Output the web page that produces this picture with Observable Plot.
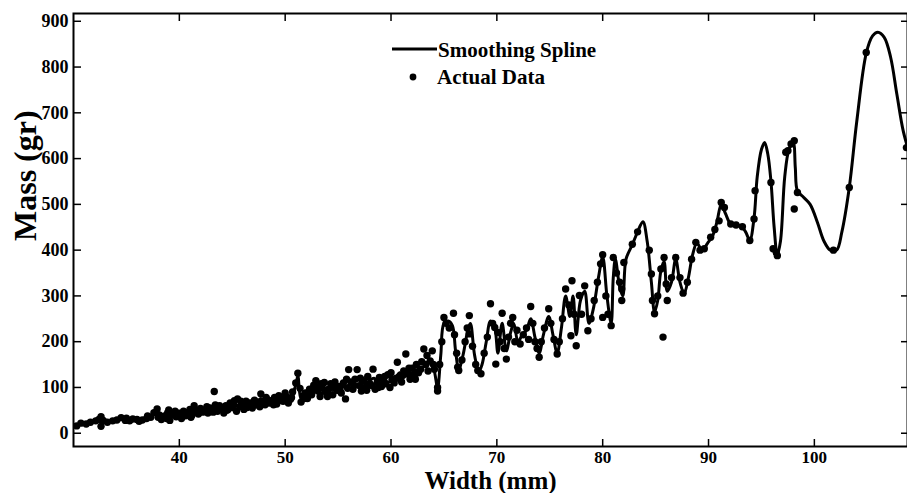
<!DOCTYPE html>
<html><head><meta charset="utf-8">
<script src="https://cdn.jsdelivr.net/npm/d3@7"></script>
<script src="https://cdn.jsdelivr.net/npm/@observablehq/plot@0.6"></script>
<style>body{margin:0;background:#fff}#chart svg{display:block}</style>
</head><body><div id="chart"></div>
<script>
const xTicks = [40, 50, 60, 70, 80, 90, 100];
const yTicks = [0, 100, 200, 300, 400, 500, 600, 700, 800, 900];
const legendLabels = ["Smoothing Spline", "Actual Data"];
const xTitle = "Width (mm)";
const yTitle = "Mass (gr)";

// Actual data: [width mm, mass gr]
const actualData = [
[30.3,16],[30.7,22],[31.2,20],[31.6,24],[32.1,27],[32.4,30],[32.6,36],[32.6,15],[32.8,28],[33.2,24],[33.7,27],[34.1,29],[34.5,34],[34.9,28],[35.0,33],[35.3,27],[35.6,31],[36.0,30],[36.2,26],[36.5,29],[36.9,32],[37.0,38],[37.3,35],[37.6,45],[37.9,53],[38.0,35],[38.1,40],[38.3,30],[38.6,38],[38.8,32],[38.9,45],[39.0,51],[39.1,28],[39.4,42],[39.6,48],[39.7,36],[40.0,44],[40.2,32],[40.3,40],[40.4,48],[40.6,38],[40.8,45],[41.0,52],[41.1,35],[41.2,40],[41.4,60],[41.6,48],[41.8,42],[41.9,50],[42.0,54],[42.2,46],[42.4,50],[42.6,58],[42.7,44],[42.9,55],[43.1,52],[43.2,46],[43.3,91],[43.4,62],[43.6,48],[43.8,60],[43.9,54],
[44.2,44],[44.4,60],[44.5,50],[44.6,52],[44.8,66],[45.0,56],[45.1,62],[45.2,71],[45.4,48],[45.5,75],[45.7,58],[45.8,70],[45.9,64],[46.1,52],[46.3,70],[46.4,56],[46.5,60],[46.7,66],[46.9,55],[47.0,64],[47.1,72],[47.3,62],[47.5,68],[47.6,58],[47.7,86],[47.9,70],[48.1,62],[48.2,78],[48.3,74],[48.5,66],[48.8,72],[48.9,62],[49.0,78],[49.2,64],[49.4,82],[49.5,72],[49.6,76],[49.8,70],[50.0,88],[50.1,80],[50.3,66],[50.5,74],[50.6,78],[50.7,90],[51.0,110],[51.2,131],[51.4,98],[51.5,68],[51.7,82],[51.8,76],[51.9,88],
[52.1,76],[52.2,88],[52.3,96],[52.5,84],[52.7,105],[52.8,96],[52.9,115],[53.1,92],[53.3,80],[53.4,108],[53.5,100],[53.7,111],[53.9,88],[54.0,80],[54.1,96],[54.3,108],[54.5,84],[54.6,100],[54.7,112],[54.9,94],[55.1,102],[55.2,92],[55.3,88],[55.5,110],[55.7,75],[55.8,118],[55.9,98],[56.0,139],[56.2,112],[56.4,96],[56.5,104],[56.6,118],[56.8,139],[57.0,104],[57.1,120],[57.2,92],[57.4,115],[57.6,100],[57.7,94],[57.8,124],[58.0,108],[58.2,104],[58.3,140],[58.5,96],[58.7,112],[58.8,100],[58.9,122],[59.1,102],[59.3,116],[59.4,124],[59.5,108],[59.7,128],[59.9,100],[60.0,132],[60.1,118],[60.3,110],[60.5,120],[60.6,155],[60.8,124],[61.0,112],[61.1,126],[61.2,136],[61.4,173],[61.6,130],[61.7,142],[61.8,118],[62.0,142],[62.2,126],[62.3,118],[62.4,150],[62.6,132],[62.8,140],[62.9,156],[63.1,184],[63.3,150],[63.4,170],[63.5,136],[63.7,158],[63.9,180],[64.0,150],[64.1,140],[64.4,100],[64.4,92],
[64.6,150],[64.8,200],[65.0,253],[65.2,240],[65.5,230],[65.9,262],[66.0,215],[66.2,175],[66.3,144],[66.4,137],[66.7,160],[67.0,200],[67.2,230],[67.4,257],[67.4,217],[67.7,190],[68.0,150],[68.2,137],[68.5,130],[68.8,175],[69.1,210],[69.4,283],[69.6,240],[69.8,231],[69.9,151],[70.1,220],[70.3,200],[70.5,262],[70.7,185],[70.9,162],[71.1,210],[71.3,240],[71.5,253],[71.7,200],[71.9,225],[72.2,195],[72.5,215],[72.8,230],[73.0,205],[73.2,277],[73.4,240],[73.6,200],[73.8,185],[74.0,166],[74.2,200],[74.5,230],[74.9,272],[75.1,240],[75.4,205],[75.7,173],[75.9,200],[76.2,250],[76.5,315],[76.8,280],[77.0,213],[77.1,333],[77.3,260],[77.5,191],[77.8,301],[78.0,260],[78.3,322],[78.6,224],[78.9,250],[79.2,290],[79.5,330],[79.8,370],[80.0,390],[80.0,253],[80.3,300],[80.5,260],[80.8,235],[81.0,384],[81.3,350],[81.6,330],[81.8,315],[81.8,290],[82.0,373],
[82.8,413],[83.3,440],[84.4,400],[84.6,348],[84.7,290],[84.9,261],[85.2,300],[85.5,359],[85.7,210],[85.8,384],[86.0,326],[86.1,290],[86.5,340],[86.9,384],[87.3,340],[87.6,306],[88.0,330],[88.4,380],[88.8,417],[89.2,400],[89.6,403],[90.2,428],[90.6,445],[91.0,464],[91.2,504],[91.5,493],[92.1,457],[92.6,455],[93.2,451],[93.9,421],[94.3,468],[94.4,530],[95.9,548],[96.1,403],[96.4,395],[96.5,388],[97.3,614],[97.5,617],[97.8,632],[98.1,639],[98.1,490],[98.4,526],[101.8,400],[103.3,537],[104.9,832],[108.7,624]
];

// Smoothing spline knots: [width mm, mass gr]
const splineKnots = [
[30.0,15],[30.7,20],[31.5,23],[32.3,28],[32.6,33],[33.0,26],[33.8,27],[34.5,32],[35.2,28],[35.8,30],[36.5,29],[37.2,34],[37.9,48],[38.3,34],[38.8,42],[39.2,36],[39.7,40],[40.2,38],[40.6,44],[41.0,46],[41.4,55],[41.8,44],[42.3,48],[42.8,50],[43.3,60],[43.7,50],[44.2,50],[44.8,60],[45.3,62],[45.8,58],[46.3,64],[46.8,60],[47.3,66],[47.7,76],[48.2,66],[48.7,70],[49.2,70],[49.6,76],[50.1,74],[50.6,82],[51.0,105],[51.2,125],[51.5,75],[51.9,84],[52.4,90],[52.9,108],[53.4,88],[53.9,98],[54.4,100],[54.9,98],[55.4,100],[55.9,104],[56.4,110],[56.9,118],[57.4,104],[57.9,114],[58.4,120],[58.9,110],[59.4,112],[59.9,112],[60.4,118],[60.8,132],[61.3,125],[61.8,128],[62.3,138],[62.8,140],[63.3,150],[63.8,155],[64.1,135],[64.4,100],[64.7,170],[65.0,240],[65.4,245],[65.8,235],[66.1,180],[66.4,140],[66.8,170],[67.3,230],[67.5,240],[67.9,170],[68.3,135],[68.6,150],[69.0,200],[69.4,245],[69.8,230],[70.1,175],[70.5,240],[70.9,180],[71.3,220],[71.6,240],[72.0,200],[72.4,215],[72.8,225],[73.2,250],[73.6,210],[74.0,175],[74.4,215],[74.9,255],[75.3,215],[75.7,175],[76.1,230],[76.5,300],[76.9,255],[77.2,300],[77.5,215],[77.9,290],[78.3,310],[78.7,240],[79.1,270],[79.6,340],[80.0,385],[80.4,300],[80.8,240],[81.0,340],[81.2,380],[81.6,320],[81.9,300],[82.2,380],[82.8,412],[83.3,440],[83.8,462],[84.2,420],[84.6,330],[84.9,265],[85.2,290],[85.5,355],[85.8,375],[86.1,310],[86.5,330],[86.9,380],[87.3,330],[87.7,305],[88.1,340],[88.5,390],[88.9,415],[89.4,400],[89.9,415],[90.4,432],[90.8,462],[91.2,500],[91.6,480],[92.1,457],[92.6,455],[93.1,452],[93.5,440],[93.9,422],[94.3,470],[94.6,560],[95.0,620],[95.3,635],[95.6,610],[95.9,550],[96.2,450],[96.5,390],[96.8,420],[97.2,560],[97.6,620],[98.0,635],[98.2,580],[98.4,530],[99.0,515],[99.6,500],[100.3,460],[100.9,420],[101.5,400],[102.1,400],[102.6,440],[103.3,537],[104.0,680],[104.9,830],[105.5,868],[106.0,876],[106.6,865],[107.2,822],[107.8,740],[108.4,660],[109.0,610]
];

const serif = "'Liberation Serif', 'Times New Roman', serif";

const plot = Plot.plot({
  width: 907,
  height: 493,
  marginLeft: 73,
  marginRight: 0,
  marginTop: 13,
  marginBottom: 47,
  x: {domain: [30, 108.8]},
  y: {domain: [-29, 917]},
  style: {fontFamily: serif, fontWeight: "bold", fontSize: "18px", background: "white", color: "black"},
  marks: [
    Plot.line(splineKnots, {x: d => d[0], y: d => d[1], curve: "catmull-rom", stroke: "black", strokeWidth: 3, clip: true}),
    Plot.dot(actualData, {x: d => d[0], y: d => d[1], r: 3.7, fill: "black", clip: true}),
    Plot.frame({stroke: "black", strokeWidth: 2}),
    Plot.axisX(xTicks, {anchor: "bottom", tickSize: -7, tickPadding: 11, fontSize: 17, label: null, strokeWidth: 1.5}),
    Plot.axisX(xTicks, {anchor: "top", tickSize: -7, tickFormat: () => "", label: null, strokeWidth: 1.5}),
    Plot.axisY(yTicks, {anchor: "left", tickSize: -8, tickPadding: 13, label: null, strokeWidth: 1.5}),
    Plot.axisY(yTicks, {anchor: "right", tickSize: -7, tickFormat: () => "", label: null, strokeWidth: 1.5}),
    Plot.text([xTitle], {text: d => d, frameAnchor: "bottom", dy: 34, fontSize: 25, fontWeight: "bold", fontFamily: serif, lineAnchor: "middle"}),
    Plot.text([yTitle], {text: d => d, frameAnchor: "left", dx: -48, dy: 11, rotate: -90, fontSize: 32, fontWeight: "bold", fontFamily: serif, lineAnchor: "middle"})
  ]
});

// Legend
const svg = d3.select(plot);
const g = svg.append("g").attr("font-family", serif).attr("font-weight", "bold").attr("font-size", 21).attr("fill", "black").attr("text-anchor", "start");
g.append("line").attr("x1", 392).attr("x2", 437).attr("y1", 49).attr("y2", 49).attr("stroke", "black").attr("stroke-width", 3);
g.append("text").attr("x", 438).attr("y", 57).attr("text-anchor", "start").text(legendLabels[0]);
g.append("circle").attr("cx", 413).attr("cy", 77).attr("r", 3.4).attr("fill", "black");
g.append("text").attr("x", 437).attr("y", 84).attr("text-anchor", "start").text(legendLabels[1]);

document.getElementById("chart").appendChild(plot);
</script>
</body></html>
